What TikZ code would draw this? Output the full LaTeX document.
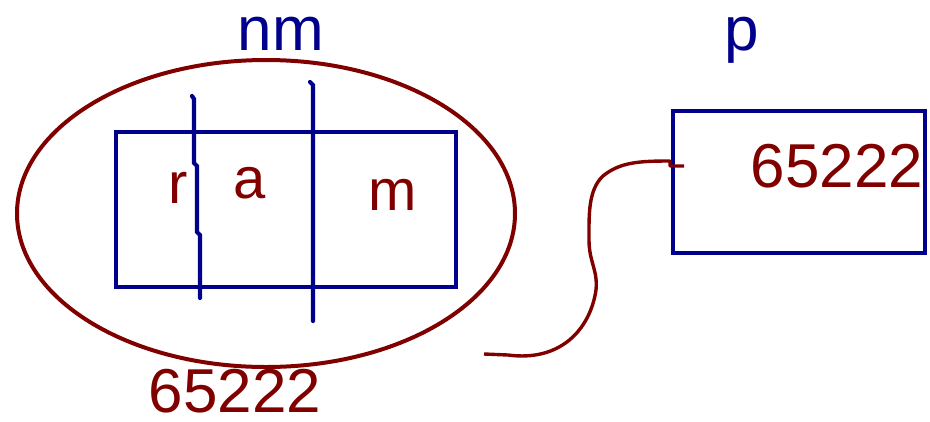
\documentclass[tikz,border=0pt]{standalone}
\usepackage{fontspec}
\setmainfont{Liberation Sans}
\usetikzlibrary{shapes.geometric}
\definecolor{hred}{RGB}{128,0,0}
\definecolor{hblue}{RGB}{0,0,140}
\begin{document}
\begin{tikzpicture}[x=1pt,y=-1pt,
  redline/.style={draw=hred,line width=4pt},
  blueline/.style={draw=hblue,line width=4.2pt},
  lbl/.style={anchor=base,inner sep=0pt,font=\fontsize{62}{70}\selectfont},
  bluetxt/.style={lbl,text=hblue},
  redtxt/.style={lbl,text=hred},
  cell/.style={lbl,text=hred,font=\fontsize{58}{66}\selectfont},
  lbox/.style={rectangle,blueline,inner sep=0pt,outer sep=0pt}]
\useasboundingbox (0,0) rectangle (930,421);
% labels
\node[bluetxt] (nmlbl) at (281,50) {nm};
\node[bluetxt] (plbl) at (742,50) {p};
% ellipse (variable nm)
\node[ellipse,redline,minimum width=498pt,minimum height=307pt,inner sep=0pt,outer sep=0pt] (nm) at (266,213.5) {};
% inner rectangle
\node[lbox,minimum width=340pt,minimum height=155pt] (rect) at (286,209.5) {};
% dividing lines
\draw[blueline,line cap=round] (192,96) -- (194,99) -- (194,163) -- (197,166) -- (197,232) -- (200,235) -- (200,298);
\draw[blueline,line cap=round] (310,82) -- (313,85) -- (313,321);
% cell texts
\node[cell] (r) at (178,203) {r};
\node[cell] (a) at (250,198) {a};
\node[cell] (m) at (393,210) {m};
% address under ellipse
\node[redtxt] (addr) at (235,412) {65222};
% pointer box
\node[lbox,minimum width=252pt,minimum height=142pt] (p) at (799,182) {};
\node[redtxt] (pval) at (837,187) {65222};
% connector
\coordinate (cstart) at (484,354);
\coordinate (cend) at (p.west |- 0,166);
\draw[redline,line width=3.4pt,line join=round] (cstart) -- (508,355) .. controls (560,362) and (590,330) .. (596,290)
  .. controls (598,270) and (589,262) .. (589,240)
  .. controls (589,215) and (588,190) .. (603,176)
  .. controls (620,162) and (640,161) .. (670,161) -- (670,166) -- ([xshift=11pt]cend);
\end{tikzpicture}
\end{document}
